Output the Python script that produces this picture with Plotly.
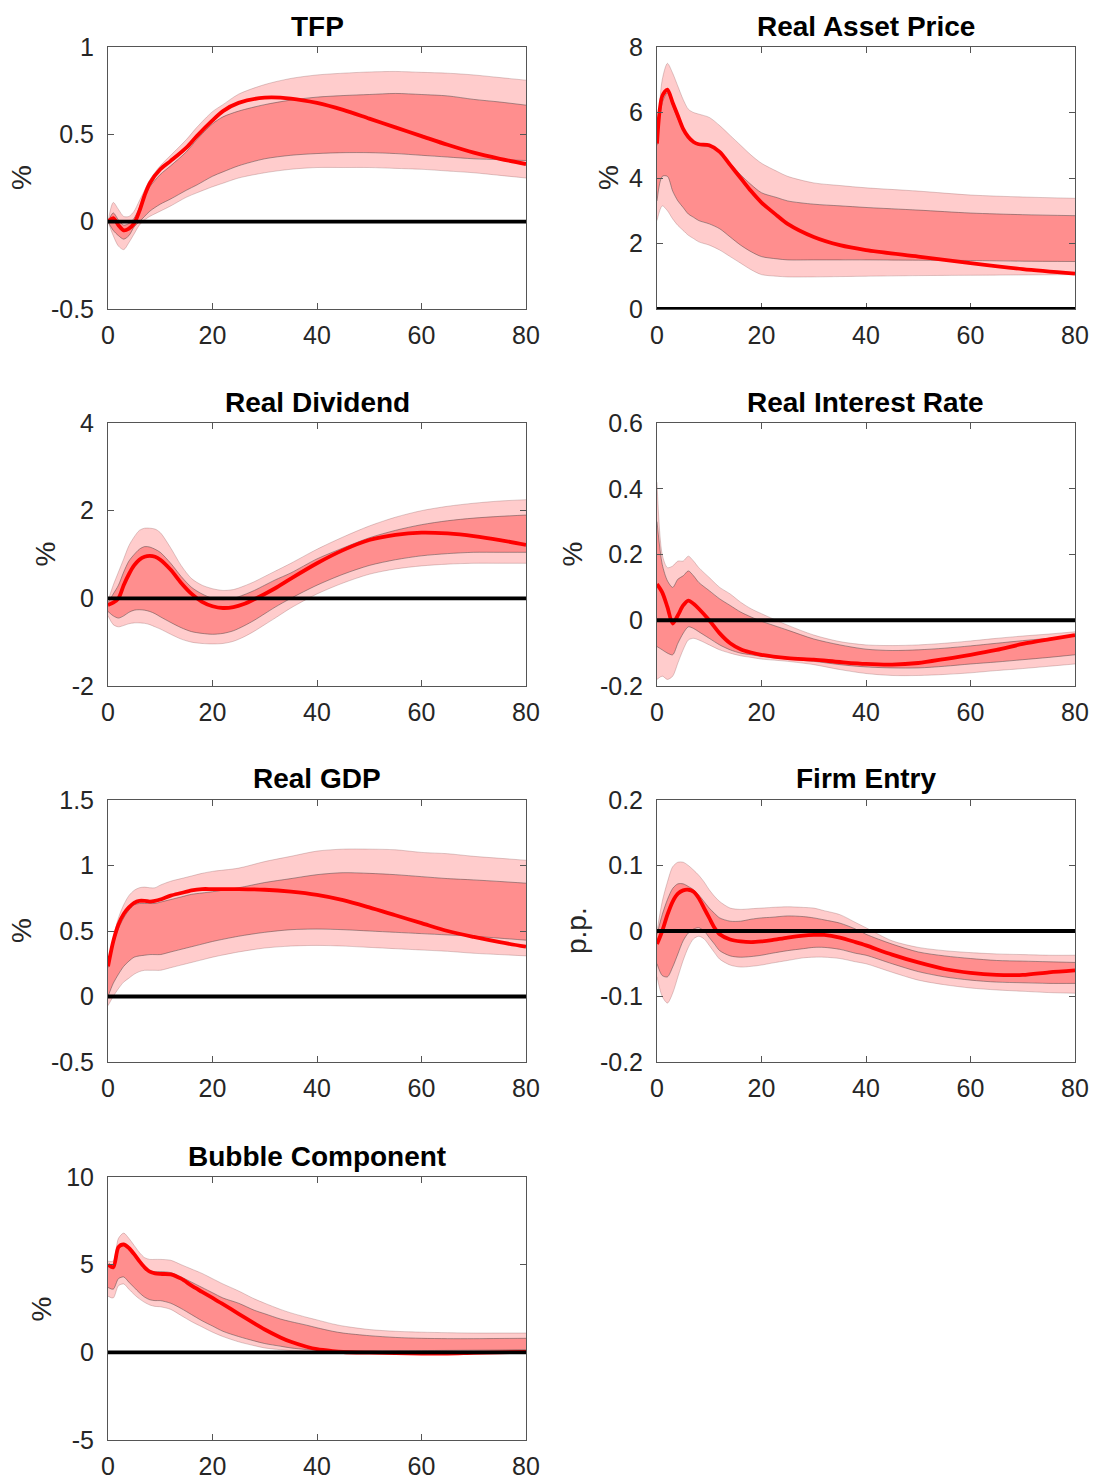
import plotly.graph_objects as go

# ---------------- data ----------------
TFP_X = [0,1,2,3,4,5,6,7,8,10,12,15,17,20,22,25,30,35,40,45,50,55,60,65,70,75,80]
TFP_MED = [0,0.02,-0.02,-0.05,-0.04,-0.01,0.06,0.15,0.22,0.30,0.348,0.424,0.49,0.58,0.633,0.68,0.71,0.705,0.68,0.64,0.59,0.54,0.49,0.44,0.395,0.36,0.33]
TFP_HI90 = [0,0.11,0.07,0.03,0.03,0.06,0.12,0.18,0.24,0.32,0.38,0.47,0.54,0.63,0.67,0.73,0.785,0.82,0.84,0.85,0.857,0.86,0.855,0.85,0.84,0.825,0.81]
TFP_HI68 = [0,0.05,0.01,-0.02,-0.01,0.02,0.08,0.15,0.2,0.27,0.32,0.4,0.47,0.56,0.6,0.633,0.67,0.696,0.713,0.722,0.728,0.734,0.728,0.72,0.70,0.685,0.667]
TFP_LO68 = [0,-0.05,-0.08,-0.1,-0.08,-0.03,0.0,0.03,0.06,0.1,0.13,0.18,0.21,0.26,0.285,0.32,0.36,0.38,0.39,0.395,0.395,0.39,0.38,0.37,0.36,0.355,0.35]
TFP_LO90 = [0,-0.08,-0.14,-0.16,-0.12,-0.07,-0.02,0.01,0.03,0.06,0.09,0.14,0.165,0.2,0.22,0.25,0.28,0.3,0.31,0.31,0.31,0.305,0.3,0.29,0.28,0.265,0.25]

RAP_X = [0,1,2,3,4,5,6,7,8,10,12,14,16,18,20,23,25,30,35,40,50,60,70,80]
RAP_MED = [5.05,6.5,6.7,6.3,5.9,5.5,5.25,5.1,5.03,5.0,4.8,4.4,4.0,3.6,3.25,2.85,2.6,2.2,1.95,1.8,1.6,1.4,1.22,1.08]
RAP_HI90 = [5.1,7.0,7.5,7.2,6.8,6.4,6.1,6.0,5.95,5.85,5.6,5.3,5.0,4.7,4.45,4.2,4.05,3.85,3.77,3.7,3.6,3.48,3.42,3.38]
RAP_HI68 = [5.0,6.3,6.6,6.2,5.8,5.45,5.2,5.08,5.0,4.95,4.8,4.45,4.1,3.8,3.55,3.4,3.3,3.2,3.15,3.1,3.02,2.93,2.88,2.85]
RAP_LO68 = [3.3,4.05,4.05,3.6,3.3,3.1,2.9,2.8,2.7,2.6,2.45,2.2,1.95,1.75,1.6,1.53,1.5,1.5,1.5,1.5,1.49,1.48,1.46,1.45]
RAP_LO90 = [2.7,3.15,3.0,2.75,2.55,2.4,2.25,2.15,2.05,1.95,1.8,1.6,1.4,1.2,1.05,1.0,0.98,0.98,0.99,1.0,1.02,1.03,1.04,1.05]

DIV_X = [0,1,2,3,4,5,6,7,8,9,10,12,14,16,18,20,22,24,26,28,30,32,35,40,45,50,55,60,65,70,75,80]
DIV_MED = [-0.15,-0.1,0.0,0.3,0.55,0.75,0.88,0.95,0.97,0.95,0.88,0.65,0.35,0.1,-0.08,-0.18,-0.22,-0.2,-0.13,-0.02,0.1,0.23,0.45,0.8,1.1,1.33,1.45,1.5,1.48,1.42,1.33,1.22]
DIV_HI90 = [-0.05,0.3,0.6,0.9,1.2,1.4,1.55,1.6,1.6,1.58,1.5,1.15,0.75,0.45,0.3,0.22,0.18,0.2,0.28,0.38,0.5,0.62,0.8,1.12,1.4,1.65,1.85,2.0,2.1,2.17,2.22,2.25]
DIV_HI68 = [-0.1,0.1,0.3,0.6,0.85,1.0,1.12,1.18,1.17,1.12,1.05,0.8,0.5,0.25,0.1,0.0,-0.03,0.0,0.08,0.18,0.3,0.42,0.58,0.9,1.15,1.38,1.55,1.68,1.77,1.83,1.87,1.9]
DIV_LO68 = [-0.3,-0.4,-0.45,-0.4,-0.32,-0.27,-0.26,-0.27,-0.3,-0.35,-0.42,-0.55,-0.67,-0.76,-0.8,-0.82,-0.8,-0.74,-0.63,-0.5,-0.35,-0.2,0.0,0.3,0.55,0.75,0.88,0.97,1.02,1.05,1.05,1.05]
DIV_LO90 = [-0.4,-0.6,-0.65,-0.62,-0.58,-0.56,-0.56,-0.57,-0.6,-0.65,-0.7,-0.82,-0.93,-1.0,-1.03,-1.04,-1.03,-0.98,-0.88,-0.75,-0.6,-0.45,-0.22,0.1,0.35,0.55,0.67,0.74,0.78,0.8,0.8,0.8]

RIR_X = [0,1,2,3,4,5,6,7,8,10,12,14,16,18,20,25,30,35,40,45,50,55,60,65,70,75,80]
RIR_MED = [0.11,0.085,0.04,-0.01,0.015,0.045,0.06,0.05,0.035,0.0,-0.04,-0.07,-0.088,-0.098,-0.105,-0.115,-0.12,-0.127,-0.133,-0.135,-0.13,-0.118,-0.105,-0.09,-0.072,-0.058,-0.045]
RIR_HI90 = [0.42,0.2,0.16,0.165,0.18,0.18,0.195,0.18,0.16,0.13,0.1,0.08,0.055,0.035,0.02,-0.015,-0.045,-0.065,-0.075,-0.077,-0.075,-0.07,-0.063,-0.055,-0.048,-0.042,-0.035]
RIR_HI68 = [0.3,0.17,0.12,0.1,0.125,0.135,0.15,0.135,0.115,0.09,0.065,0.045,0.025,0.01,-0.003,-0.03,-0.057,-0.075,-0.088,-0.092,-0.09,-0.085,-0.078,-0.07,-0.062,-0.055,-0.048]
RIR_LO68 = [-0.08,-0.09,-0.1,-0.105,-0.07,-0.04,-0.02,-0.025,-0.035,-0.055,-0.075,-0.09,-0.1,-0.105,-0.11,-0.118,-0.125,-0.135,-0.142,-0.145,-0.145,-0.14,-0.133,-0.127,-0.12,-0.113,-0.105]
RIR_LO90 = [-0.18,-0.17,-0.18,-0.17,-0.13,-0.09,-0.06,-0.055,-0.06,-0.075,-0.09,-0.1,-0.108,-0.113,-0.118,-0.125,-0.135,-0.15,-0.162,-0.168,-0.168,-0.165,-0.16,-0.153,-0.147,-0.14,-0.133]

GDP_X = [0,1,2,3,4,5,6,7,8,9,10,12,14,16,18,20,25,30,35,40,45,50,55,60,65,70,75,80]
GDP_MED = [0.23,0.42,0.55,0.63,0.68,0.715,0.73,0.73,0.725,0.73,0.74,0.77,0.79,0.81,0.82,0.82,0.82,0.815,0.8,0.775,0.735,0.68,0.62,0.56,0.5,0.455,0.415,0.38]
GDP_HI90 = [0.23,0.45,0.6,0.7,0.77,0.81,0.83,0.835,0.83,0.83,0.85,0.88,0.9,0.92,0.94,0.955,0.98,1.03,1.07,1.11,1.125,1.125,1.12,1.1,1.09,1.07,1.055,1.04]
GDP_HI68 = [0.22,0.4,0.52,0.6,0.66,0.7,0.71,0.71,0.71,0.71,0.72,0.74,0.76,0.78,0.79,0.8,0.83,0.87,0.9,0.93,0.945,0.94,0.93,0.915,0.9,0.89,0.878,0.865]
GDP_LO68 = [0.0,0.1,0.17,0.23,0.27,0.3,0.31,0.315,0.32,0.32,0.32,0.34,0.36,0.38,0.4,0.42,0.46,0.49,0.51,0.515,0.51,0.5,0.49,0.48,0.47,0.46,0.445,0.43]
GDP_LO90 = [-0.07,0.0,0.06,0.11,0.14,0.17,0.19,0.2,0.2,0.2,0.2,0.22,0.24,0.26,0.28,0.3,0.34,0.37,0.385,0.39,0.385,0.375,0.365,0.355,0.345,0.33,0.32,0.31]

FE_X = [0,1,2,3,4,5,6,7,8,9,10,11,12,14,16,18,20,22,25,28,30,32,35,38,40,45,50,55,60,65,70,75,80]
FE_MED = [-0.02,0.0,0.025,0.045,0.057,0.062,0.063,0.06,0.05,0.035,0.02,0.005,-0.005,-0.013,-0.016,-0.017,-0.016,-0.014,-0.01,-0.007,-0.006,-0.006,-0.01,-0.017,-0.022,-0.036,-0.048,-0.058,-0.064,-0.067,-0.067,-0.063,-0.06]
FE_HI90 = [0.0,0.045,0.075,0.098,0.105,0.105,0.1,0.093,0.085,0.075,0.063,0.053,0.045,0.035,0.033,0.034,0.035,0.036,0.037,0.036,0.035,0.031,0.025,0.013,0.005,-0.015,-0.025,-0.03,-0.033,-0.035,-0.036,-0.037,-0.037]
FE_HI68 = [-0.005,0.025,0.048,0.065,0.072,0.072,0.068,0.063,0.055,0.045,0.035,0.027,0.02,0.015,0.015,0.018,0.02,0.021,0.023,0.022,0.02,0.017,0.012,0.003,-0.005,-0.02,-0.032,-0.038,-0.042,-0.045,-0.046,-0.047,-0.048]
FE_LO68 = [-0.05,-0.068,-0.07,-0.055,-0.035,-0.015,-0.003,0.003,0.005,0.0,-0.01,-0.02,-0.03,-0.038,-0.04,-0.039,-0.037,-0.034,-0.03,-0.027,-0.025,-0.025,-0.028,-0.034,-0.037,-0.05,-0.062,-0.07,-0.075,-0.078,-0.079,-0.08,-0.08]
FE_LO90 = [-0.07,-0.1,-0.11,-0.095,-0.07,-0.045,-0.025,-0.012,-0.008,-0.012,-0.022,-0.033,-0.043,-0.052,-0.055,-0.054,-0.052,-0.049,-0.045,-0.041,-0.04,-0.04,-0.042,-0.047,-0.05,-0.063,-0.075,-0.082,-0.087,-0.09,-0.092,-0.094,-0.095]

BUB_X = [0,1,2,3,4,5,6,7,8,9,10,12,14,16,18,20,22,25,28,30,33,35,38,40,43,45,50,55,60,65,70,75,80]
BUB_MED = [5.0,4.85,6.0,6.15,5.95,5.6,5.2,4.85,4.6,4.5,4.47,4.45,4.2,3.8,3.45,3.1,2.75,2.2,1.65,1.3,0.85,0.6,0.32,0.18,0.07,0.02,-0.02,-0.05,-0.07,-0.07,-0.03,0.0,0.03]
BUB_HI90 = [5.2,5.2,6.5,6.8,6.5,6.1,5.7,5.4,5.3,5.3,5.3,5.25,5.0,4.75,4.5,4.2,3.9,3.5,3.05,2.8,2.45,2.25,2.0,1.85,1.62,1.5,1.3,1.2,1.15,1.12,1.1,1.1,1.1]
BUB_HI68 = [5.0,4.9,6.0,6.2,6.0,5.6,5.2,4.85,4.65,4.6,4.6,4.55,4.3,4.0,3.7,3.4,3.1,2.8,2.4,2.2,1.9,1.75,1.55,1.4,1.2,1.1,0.95,0.85,0.8,0.78,0.78,0.79,0.8]
BUB_LO68 = [3.7,3.6,4.2,4.3,4.0,3.7,3.4,3.15,3.0,2.95,2.95,2.8,2.5,2.15,1.8,1.5,1.2,0.9,0.65,0.5,0.35,0.25,0.16,0.12,0.09,0.08,0.08,0.09,0.1,0.11,0.12,0.13,0.15]
BUB_LO90 = [3.2,3.1,3.8,3.9,3.6,3.3,3.05,2.85,2.7,2.62,2.6,2.45,2.1,1.75,1.45,1.15,0.9,0.6,0.38,0.25,0.15,0.1,0.05,0.03,0.01,0.0,0.0,0.0,0.0,0.01,0.02,0.03,0.05]

TITLES = ["TFP", "Real Asset Price", "Real Dividend", "Real Interest Rate",
          "Real GDP", "Firm Entry", "Bubble Component"]
YLABELS = ["%", "%", "%", "%", "%", "p.p.", "%"]
X_TICKS = [0, 20, 40, 60, 80]
Y_TICKS = [
    [-0.5, 0, 0.5, 1],
    [0, 2, 4, 6, 8],
    [-2, 0, 2, 4],
    [-0.2, 0, 0.2, 0.4, 0.6],
    [-0.5, 0, 0.5, 1, 1.5],
    [-0.2, -0.1, 0, 0.1, 0.2],
    [-5, 0, 5, 10],
]
Y_TICKTEXT = [
    ["-0.5", "0", "0.5", "1"],
    ["0", "2", "4", "6", "8"],
    ["-2", "0", "2", "4"],
    ["-0.2", "0", "0.2", "0.4", "0.6"],
    ["-0.5", "0", "0.5", "1", "1.5"],
    ["-0.2", "-0.1", "0", "0.1", "0.2"],
    ["-5", "0", "5", "10"],
]

PANELS = [
    (TFP_X, TFP_MED, TFP_HI90, TFP_HI68, TFP_LO68, TFP_LO90),
    (RAP_X, RAP_MED, RAP_HI90, RAP_HI68, RAP_LO68, RAP_LO90),
    (DIV_X, DIV_MED, DIV_HI90, DIV_HI68, DIV_LO68, DIV_LO90),
    (RIR_X, RIR_MED, RIR_HI90, RIR_HI68, RIR_LO68, RIR_LO90),
    (GDP_X, GDP_MED, GDP_HI90, GDP_HI68, GDP_LO68, GDP_LO90),
    (FE_X, FE_MED, FE_HI90, FE_HI68, FE_LO68, FE_LO90),
    (BUB_X, BUB_MED, BUB_HI90, BUB_HI68, BUB_LO68, BUB_LO90),
]

# ---------------- layout geometry ----------------
W, H = 1095, 1482
XDOM = [[108 / W, 526 / W], [657 / W, 1075 / W]]
YDOM = [[1 - 309 / H, 1 - 47 / H], [1 - 686 / H, 1 - 423 / H],
        [1 - 1062 / H, 1 - 800 / H], [1 - 1440 / H, 1 - 1177 / H]]
YLABEL_X = [21, 608, 45, 572, 21, 576, 41]

FONT = "Liberation Sans, Arial, Helvetica, sans-serif"
TICK_COLOR = "#262626"
FRAME = "#555555"

fig = go.Figure()
layout = dict(template="none", width=W, height=H,
              margin=dict(l=0, r=0, t=0, b=0, pad=0, autoexpand=False),
              paper_bgcolor="white", plot_bgcolor="white", showlegend=False,
              font=dict(family=FONT, color=TICK_COLOR, size=25))
annotations = []
shapes = []

for i, (xs, med, hi90, hi68, lo68, lo90) in enumerate(PANELS):
    row, col = divmod(i, 2)
    n = i + 1
    xa = "x" if n == 1 else f"x{n}"
    ya = "y" if n == 1 else f"y{n}"
    common = dict(x=xs, xaxis=xa, yaxis=ya, mode="lines", hoverinfo="skip")
    # outer band
    fig.add_trace(go.Scatter(y=lo90, line=dict(color="rgba(120,60,60,0.25)", width=1, shape="spline", smoothing=0.8), **common))
    fig.add_trace(go.Scatter(y=hi90, fill="tonexty", fillcolor="rgba(255,0,0,0.2)",
                             line=dict(color="rgba(120,60,60,0.25)", width=1, shape="spline", smoothing=0.8), **common))
    # inner band
    fig.add_trace(go.Scatter(y=lo68, line=dict(color="rgba(60,60,60,0.45)", width=1, shape="spline", smoothing=0.8), **common))
    fig.add_trace(go.Scatter(y=hi68, fill="tonexty", fillcolor="rgba(255,0,0,0.3)",
                             line=dict(color="rgba(60,60,60,0.45)", width=1, shape="spline", smoothing=0.8), **common))
    # median
    fig.add_trace(go.Scatter(y=med, line=dict(color="rgb(255,0,0)", width=3.8, shape="spline", smoothing=0.8), **common))

    yt = Y_TICKS[i]
    axis_common = dict(showline=True, linecolor=FRAME, linewidth=1, mirror="allticks",
                       ticks="inside", ticklen=6, tickcolor=FRAME, tickwidth=1,
                       showgrid=False, zeroline=False, fixedrange=True, automargin=False,
                       tickfont=dict(family=FONT, size=25, color=TICK_COLOR))
    layout["xaxis" if n == 1 else f"xaxis{n}"] = dict(
        domain=XDOM[col], anchor=ya, range=[0, 80], tickvals=X_TICKS,
        ticktext=[str(v) for v in X_TICKS], ticklabelstandoff=4, **axis_common)
    layout["yaxis" if n == 1 else f"yaxis{n}"] = dict(
        domain=YDOM[row], anchor=xa, range=[yt[0], yt[-1]], tickvals=yt,
        ticktext=Y_TICKTEXT[i], ticklabelstandoff=8, **axis_common)

    # zero line
    shapes.append(dict(type="line", xref=f"{xa} domain", yref=ya, x0=0, x1=1, y0=0, y1=0,
                       line=dict(color="black", width=3.8), layer="above"))

    # title
    xc = (XDOM[col][0] + XDOM[col][1]) / 2
    annotations.append(dict(text=f"<b>{TITLES[i]}</b>", xref="paper", yref="paper",
                            x=xc, y=YDOM[row][1] + 21 / H, xanchor="center", yanchor="middle",
                            showarrow=False, font=dict(family=FONT, size=28, color="black")))
    # y label
    annotations.append(dict(text=YLABELS[i], xref="paper", yref="paper",
                            x=YLABEL_X[i] / W, y=(YDOM[row][0] + YDOM[row][1]) / 2,
                            xanchor="center", yanchor="middle", textangle=-90,
                            showarrow=False, font=dict(family=FONT, size=28, color=TICK_COLOR)))

layout["annotations"] = annotations
layout["shapes"] = shapes
fig.update_layout(**layout)
fig.write_html("out.html", config={"displayModeBar": False},
               post_script="document.body.style.margin='0';document.body.style.padding='0';"
                           "document.body.style.overflow='hidden';")
